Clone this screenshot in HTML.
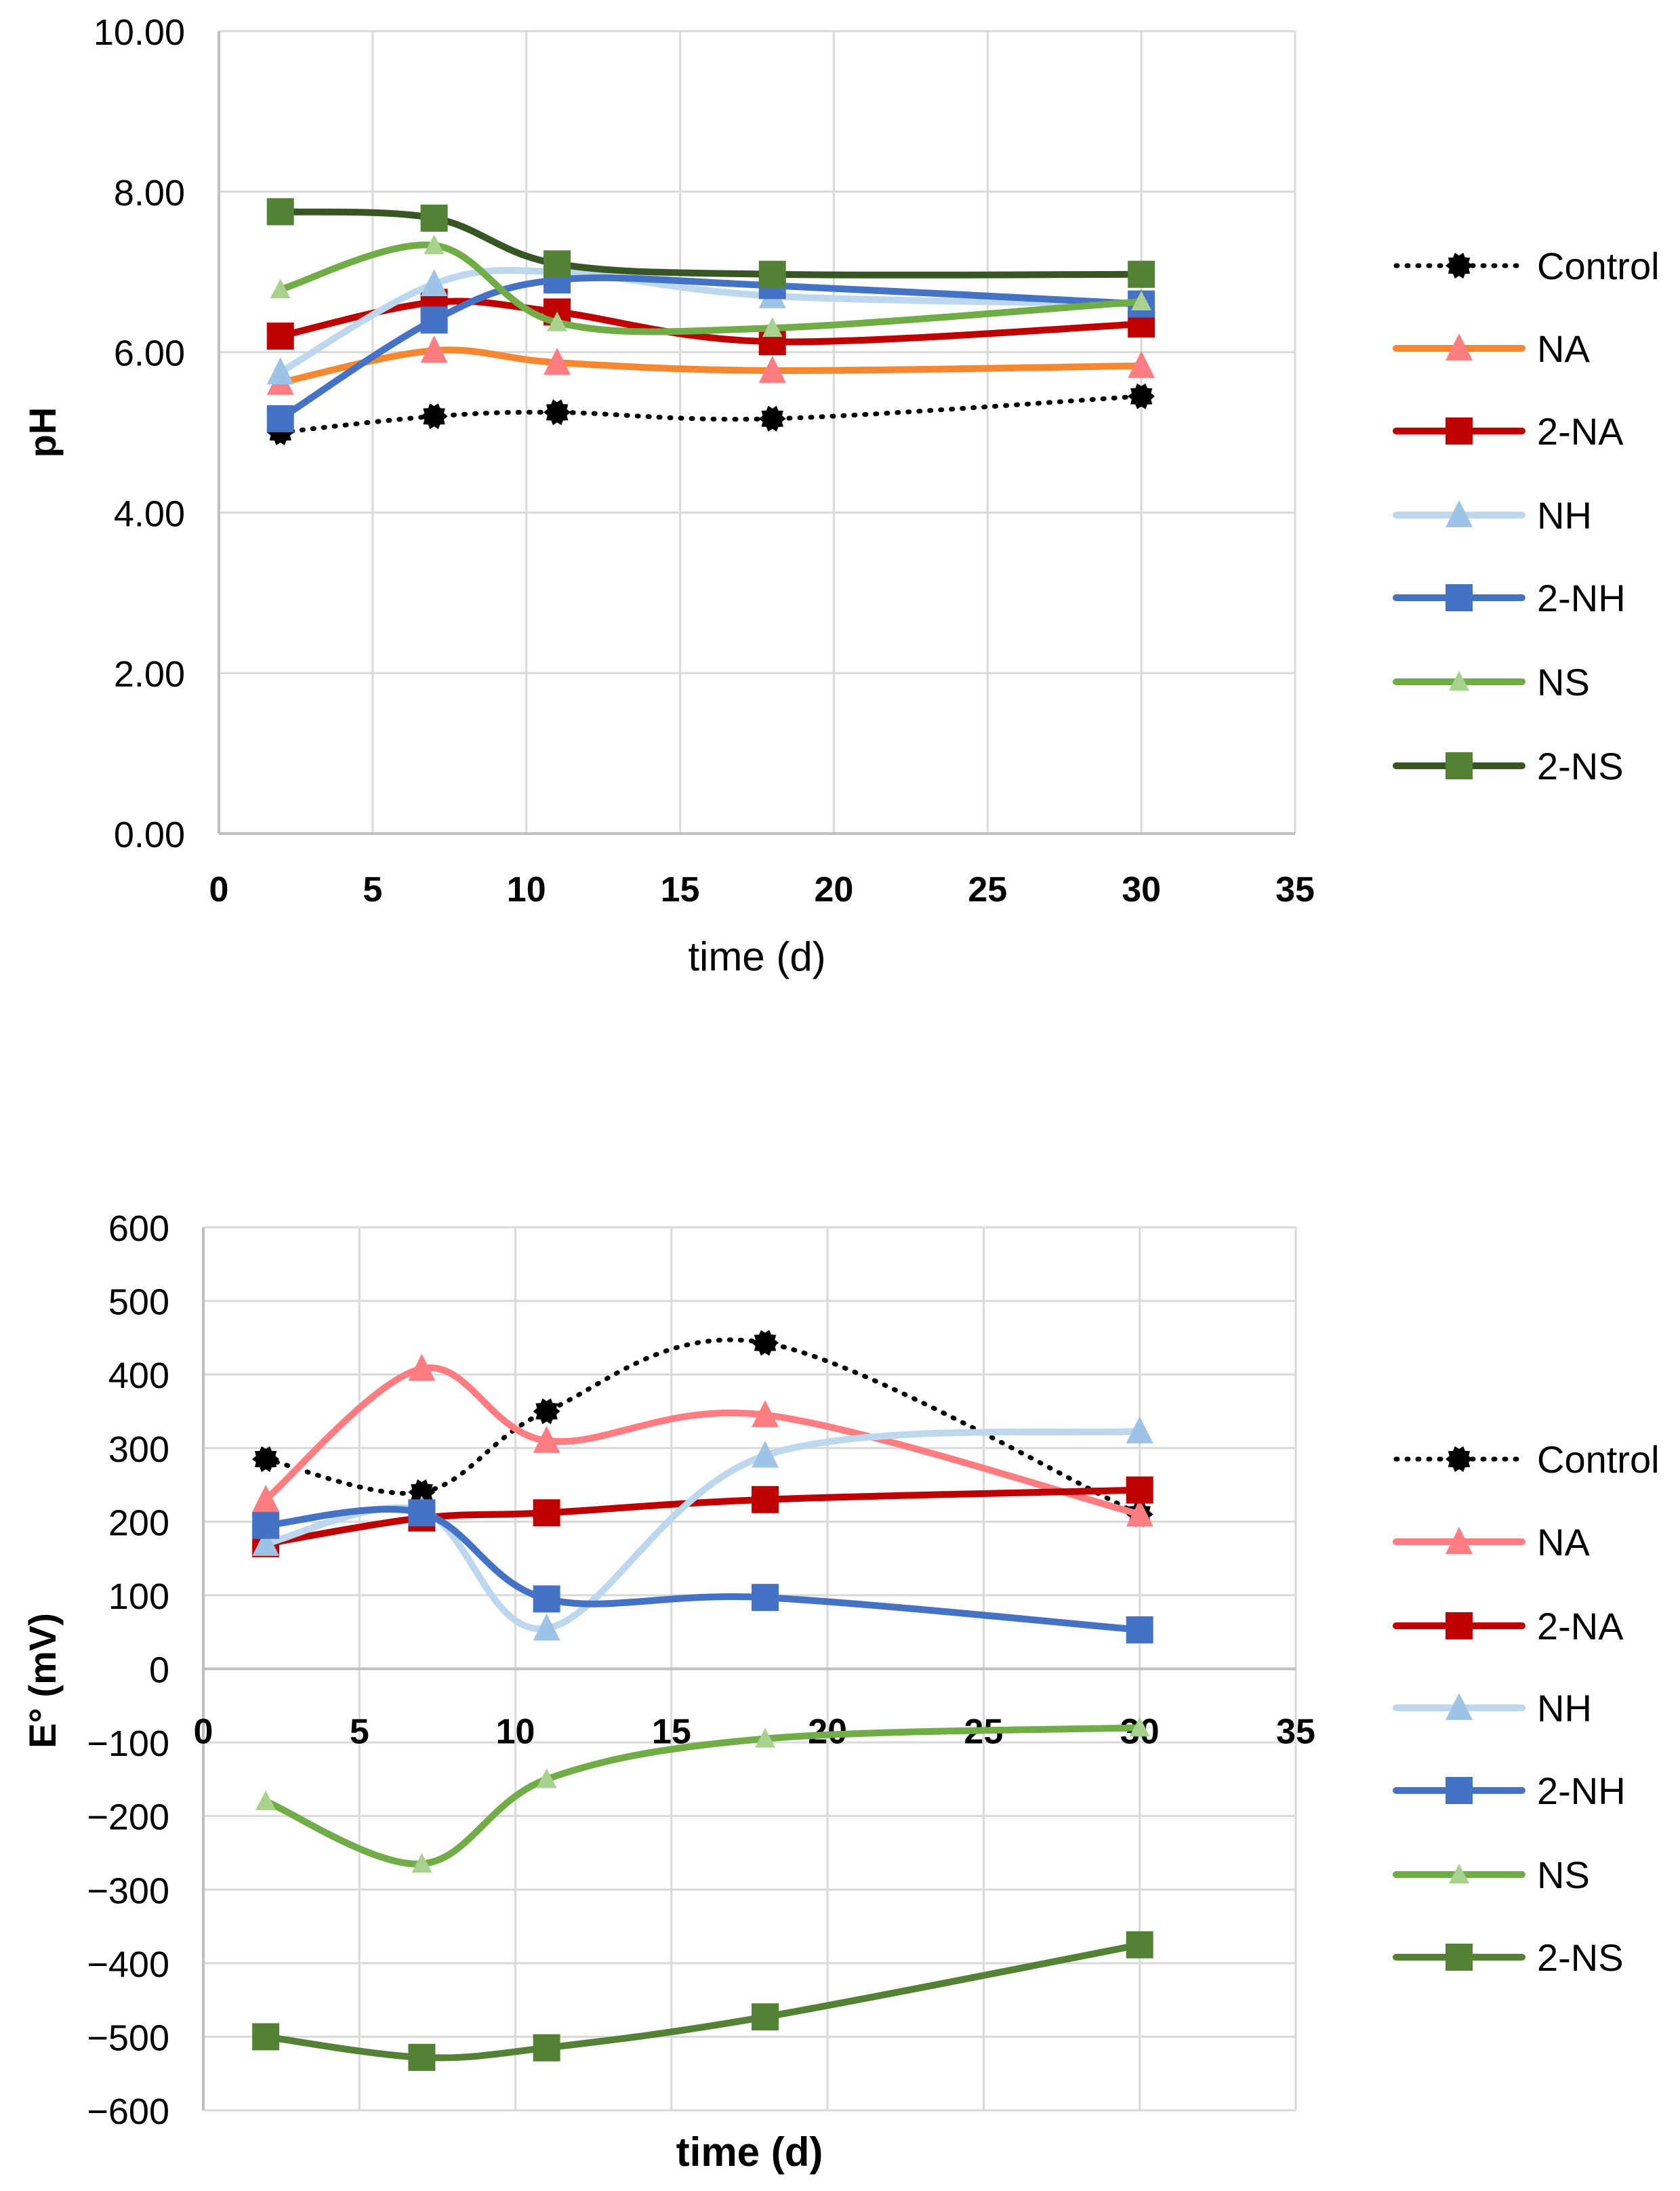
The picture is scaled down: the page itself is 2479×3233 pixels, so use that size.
<!DOCTYPE html>
<html><head><meta charset="utf-8">
<style>
html,body{margin:0;padding:0;background:#fff;}
svg{display:block;font-family:"Liberation Sans",sans-serif;}
</style></head>
<body>
<svg id="svg" width="2479" height="3233" viewBox="0 0 2479 3233" xmlns="http://www.w3.org/2000/svg"></svg>
<script>
const days = [2, 7, 11, 18, 30];
const seriesNames = ["Control", "NA", "2-NA", "NH", "2-NH", "NS", "2-NS"];
const phControl = [5.0, 5.2, 5.25, 5.17, 5.45];
const phNA = [5.62, 6.02, 5.87, 5.77, 5.83];
const ph2NA = [6.2, 6.62, 6.5, 6.13, 6.35];
const phNH = [5.75, 6.85, 7.0, 6.7, 6.6];
const ph2NH = [5.17, 6.4, 6.9, 6.83, 6.6];
const phNS = [6.78, 7.33, 6.37, 6.3, 6.63];
const ph2NS = [7.75, 7.67, 7.1, 6.97, 6.97];
const eControl = [285, 240, 350, 443, 210];
const eNA = [230, 408, 310, 345, 210];
const e2NA = [170, 205, 212, 230, 243];
const eNH = [170, 215, 55, 290, 323];
const e2NH = [195, 212, 95, 97, 53];
const eNS = [-180, -265, -150, -95, -80];
const e2NS = [-500, -528, -515, -473, -375];
const xTicks = [0, 5, 10, 15, 20, 25, 30, 35];
const phTicks = [0, 2, 4, 6, 8, 10];
const phTickLabels = ["0.00", "2.00", "4.00", "6.00", "8.00", "10.00"];
const eTicks = [-600, -500, -400, -300, -200, -100, 0, 100, 200, 300, 400, 500, 600];
const eTickLabels = ["\u2212600", "\u2212500", "\u2212400", "\u2212300", "\u2212200", "\u2212100", "0", "100", "200", "300", "400", "500", "600"];

const NS = "http://www.w3.org/2000/svg";
const svg = document.getElementById("svg");
function el(tag, attrs, parent) {
  const e = document.createElementNS(NS, tag);
  for (const k in attrs) e.setAttribute(k, attrs[k]);
  (parent || svg).appendChild(e);
  return e;
}
function smoothPath(pts) {
  let d = "M" + pts[0][0] + "," + pts[0][1];
  for (let i = 0; i < pts.length - 1; i++) {
    const p0 = pts[i - 1] || pts[i], p1 = pts[i], p2 = pts[i + 1], p3 = pts[i + 2] || p2;
    const t = 1 / 6;
    const c1 = [p1[0] + (p2[0] - p0[0]) * t, p1[1] + (p2[1] - p0[1]) * t];
    const c2 = [p2[0] - (p3[0] - p1[0]) * t, p2[1] - (p3[1] - p1[1]) * t];
    d += " C" + c1[0] + "," + c1[1] + " " + c2[0] + "," + c2[1] + " " + p2[0] + "," + p2[1];
  }
  return d;
}
function marker(g, type, x, y, color) {
  let m;
  if (type === "square") {
    m = el("rect", {x: x - 20, y: y - 20, width: 40, height: 40, fill: color}, g);
  } else if (type === "tri") {
    m = el("polygon", {points: (x) + "," + (y - 22) + " " + (x - 20) + "," + (y + 18) + " " + (x + 20) + "," + (y + 18), fill: color}, g);
  } else if (type === "smalltri") {
    m = el("polygon", {points: (x) + "," + (y - 16) + " " + (x - 15) + "," + (y + 13) + " " + (x + 15) + "," + (y + 13), fill: color}, g);
  } else {
    let pts = [];
    for (let i = 0; i < 20; i++) {
      const r = i % 2 ? 15 : 20, a = i * Math.PI / 10;
      pts.push((x + r * Math.cos(a)).toFixed(1) + "," + (y + r * Math.sin(a)).toFixed(1));
    }
    m = el("polygon", {points: pts.join(" "), fill: "#000"}, g);
  }
  
  
}

const styles = [
  {line: "#000", mk: "#000", type: "star", dash: "2 14", w: 7},
  {line: null, mk: "#FF7C80", type: "tri", w: 10},
  {line: "#C00000", mk: "#C00000", type: "square", w: 10},
  {line: "#BDD7EE", mk: "#9DC3E6", type: "tri", w: 10},
  {line: "#4472C4", mk: "#4472C4", type: "square", w: 10},
  {line: "#70AD47", mk: "#A9D18E", type: "smalltri", w: 10},
  {line: null, mk: "#548235", type: "square", w: 10}
];

function chart(cfg) {
  const g = el("g", {});
  
  
  const X = v => cfg.L + (v - 0) / 35 * (cfg.R - cfg.L);
  const Y = v => cfg.B - (v - cfg.ymin) / (cfg.ymax - cfg.ymin) * (cfg.B - cfg.T);
  xTicks.forEach(t => {
    const gl = el("line", {x1: X(t), x2: X(t), y1: cfg.T, y2: cfg.B, stroke: "#d9d9d9", "stroke-width": 3}, g);
    
    
  });
  cfg.ticks.forEach((t, i) => {
    const gl = el("line", {x1: cfg.L, x2: cfg.R, y1: Y(t), y2: Y(t), stroke: t === 0 && cfg.ymin < 0 ? "#bfbfbf" : "#d9d9d9", "stroke-width": 3}, g);
    
    
    const tx = el("text", {x: cfg.L - 50, y: Y(t) + 20, "text-anchor": "end", "font-size": 54, fill: "#000"}, g);
    tx.textContent = cfg.labels[i];
    
    
  });
  const ax = el("line", {x1: cfg.L, x2: cfg.L, y1: cfg.T, y2: cfg.B, stroke: "#bfbfbf", "stroke-width": 4}, g);
  
  
  const xAxisY = Y(cfg.ymin < 0 ? 0 : cfg.ymin);
  const xl = el("line", {x1: cfg.L, x2: cfg.R, y1: xAxisY, y2: xAxisY, stroke: "#bfbfbf", "stroke-width": 4}, g);
  
  
  xTicks.forEach(t => {
    const tx = el("text", {x: X(t), y: xAxisY + cfg.xlabOff, "text-anchor": "middle", "font-size": 52, "font-weight": "bold", fill: "#000"}, g);
    tx.textContent = t;
    
    
  });
  const xt = el("text", {x: (cfg.L + cfg.R) / 2, y: cfg.xTitleY, "text-anchor": "middle", "font-size": 60, "font-weight": cfg.xTitleBold ? "bold" : "normal", fill: "#000"}, g);
  xt.textContent = "time (d)";
  
  
  const yt = el("text", {x: 0, y: 0, "text-anchor": "middle", "font-size": 56, "font-weight": "bold", fill: "#000", transform: "translate(" + cfg.yTitleX + "," + cfg.yTitleY + ") rotate(-90)"}, g);
  yt.textContent = cfg.yTitle;
  
  

  cfg.data.forEach((vals, si) => {
    const s = styles[si];
    const sg = el("g", {}, g);
    
    
    const pts = days.map((d, i) => [X(d), Y(vals[i])]);
    const lc = s.line || cfg.extraLine[si];
    const p = el("path", {d: smoothPath(pts), fill: "none", stroke: lc, "stroke-width": s.w, "stroke-linecap": "round"}, sg);
    if (s.dash) p.setAttribute("stroke-dasharray", s.dash);
    
    
    pts.forEach(pt => marker(sg, s.type, pt[0], pt[1], s.mk));
  });

  const lg = el("g", {}, g);
  
  
  seriesNames.forEach((n, si) => {
    const s = styles[si];
    const y = cfg.legY[si];
    const eg = el("g", {}, lg);
    
    
    const ln = el("line", {x1: 2060, x2: 2246, y1: y, y2: y, stroke: s.line || cfg.extraLine[si], "stroke-width": s.w, "stroke-linecap": "round"}, eg);
    if (s.dash) ln.setAttribute("stroke-dasharray", s.dash);
    marker(eg, s.type, 2153, y, s.mk);
    const tx = el("text", {x: 2268, y: y + 20, "font-size": 56, fill: "#000"}, eg);
    tx.textContent = n;
  });
}

chart({name: "ph-chart", L: 323, R: 1911, T: 46, B: 1230, ymin: 0, ymax: 10,
  ticks: phTicks, labels: phTickLabels, xlabOff: 100, xTitleY: 1432, xTitleBold: false,
  yTitle: "pH", yTitleX: 82, yTitleY: 638,
  data: [phControl, phNA, ph2NA, phNH, ph2NH, phNS, ph2NS],
  extraLine: {1: "#F4872F", 6: "#375623"},
  legY: [392, 514, 636, 760, 882, 1006, 1130]});

chart({name: "potential-chart", L: 300, R: 1912, T: 1811, B: 3114, ymin: -600, ymax: 600,
  ticks: eTicks, labels: eTickLabels, xlabOff: 110, xTitleY: 3196, xTitleBold: true,
  yTitle: "E\u00b0 (mV)", yTitleX: 82, yTitleY: 2480,
  data: [eControl, eNA, e2NA, eNH, e2NH, eNS, e2NS],
  extraLine: {1: "#FF7C80", 6: "#548235"},
  legY: [2153, 2275, 2399, 2520, 2642, 2766, 2888]});
</script>
</body></html>
